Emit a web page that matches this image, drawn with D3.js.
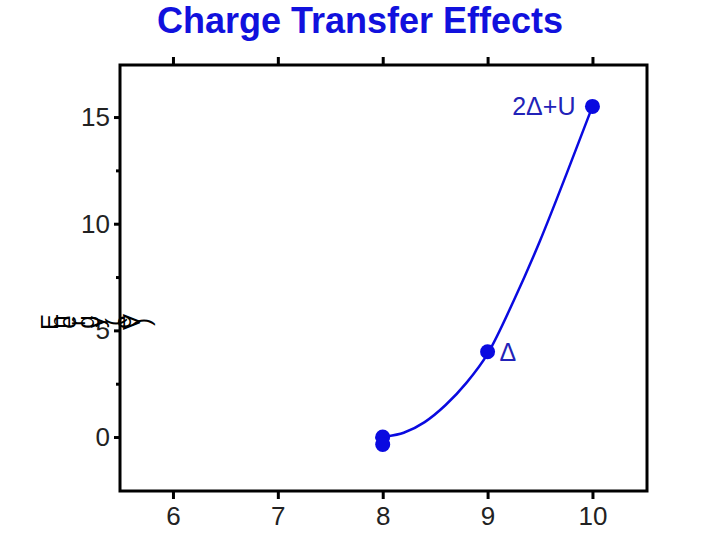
<!DOCTYPE html>
<html>
<head>
<meta charset="utf-8">
<script src="https://cdn.jsdelivr.net/npm/d3@7"></script>
<style>
  body { margin: 0; background: #fff; }
  text { font-family: "Liberation Sans", Arial, sans-serif; }
</style>
</head>
<body>
<div id="chart"></div>
<script>
// data
const pointX = [8, 8, 9, 10];
const pointY = [0, -0.35, 4, 15.5];
const curveX = [7.93, 8, 8.2, 8.4, 8.6, 8.8, 9, 9.25, 9.5, 9.75, 10];
const curveY = [-0.05, 0, 0.2, 0.7, 1.5, 2.55, 3.9, 6.4, 9.2, 12.3, 15.5];
const xTicks = [6, 7, 8, 9, 10];
const yTicks = [0, 5, 10, 15];
const yMinor = [2.5, 7.5, 12.5];
const labels = [
  { text: "2\u0394+U", x: 10, y: 15.5, anchor: "end", dx: -17 },
  { text: "\u0394", x: 9, y: 4, anchor: "start", dx: 12 }
];
const yTitle = "Energy (eV)";
const title = "Charge Transfer Effects";

const W = 720, H = 540;
const PL = 120, PR = 647, PT = 65, PB = 491;
const BLUE = "#0a0ae0";
const LABEL_BLUE = "#2222b8";

const svg = d3.select("#chart").append("svg")
  .attr("width", W)
  .attr("height", H);

const x = d3.scaleLinear().domain([5.495, 10.52]).range([PL, PR]);
const y = d3.scaleLinear().domain([-2.53, 17.44]).range([PB, PT]);

// title
svg.append("text")
  .attr("x", 360)
  .attr("y", 33)
  .attr("text-anchor", "middle")
  .attr("font-size", 36)
  .attr("font-weight", "bold")
  .attr("fill", "#1111dd")
  .text(title);

// frame
svg.append("rect")
  .attr("x", PL).attr("y", PT)
  .attr("width", PR - PL).attr("height", PB - PT)
  .attr("fill", "none")
  .attr("stroke", "#000")
  .attr("stroke-width", 3);

// bottom axis
const xAxis = svg.append("g")
  .attr("transform", `translate(0,${PB})`)
  .call(d3.axisBottom(x).tickValues(xTicks).tickSize(8).tickPadding(8).tickFormat(d3.format("d")));
xAxis.select(".domain").remove();
xAxis.selectAll("line").attr("stroke-width", 3);
xAxis.selectAll("text")
  .attr("font-size", 26)
  .attr("font-family", "Liberation Sans, Arial, sans-serif")
  .attr("fill", "#222");

// top ticks
const xTop = svg.append("g")
  .attr("transform", `translate(0,${PT})`)
  .call(d3.axisTop(x).tickValues(xTicks).tickSize(8).tickFormat(""));
xTop.select(".domain").remove();
xTop.selectAll("line").attr("stroke-width", 3);

// left axis
const yAxis = svg.append("g")
  .attr("transform", `translate(${PL},0)`)
  .call(d3.axisLeft(y).tickValues(yTicks).tickSize(6).tickPadding(4).tickFormat(d3.format("d")));
yAxis.select(".domain").remove();
yAxis.selectAll("line").attr("stroke-width", 3);
yAxis.selectAll("text")
  .attr("font-size", 26)
  .attr("font-family", "Liberation Sans, Arial, sans-serif")
  .attr("fill", "#222");

const yMin = svg.append("g")
  .attr("transform", `translate(${PL},0)`)
  .call(d3.axisLeft(y).tickValues(yMinor).tickSize(4).tickFormat(""));
yMin.select(".domain").remove();
yMin.selectAll("line").attr("stroke-width", 3);

// y axis title, each letter turned on its side
const yt = svg.append("g").attr("class", "ytitle");
yTitle.split("").forEach((ch, i) => {
  yt.append("text")
    .attr("transform", `translate(${49 + i * 9.2},322) rotate(-90)`)
    .attr("text-anchor", "middle")
    .attr("dominant-baseline", "central")
    .attr("font-size", 24)
    .attr("fill", "#000")
    .text(ch);
});

// curve
const curveData = curveX.map((d, i) => [d, curveY[i]]);
const line = d3.line()
  .x(d => x(d[0]))
  .y(d => y(d[1]))
  .curve(d3.curveMonotoneX);

svg.append("path")
  .datum(curveData)
  .attr("fill", "none")
  .attr("stroke", BLUE)
  .attr("stroke-width", 2.5)
  .attr("d", line);

// points
svg.selectAll(".pt")
  .data(pointX.map((d, i) => [d, pointY[i]]))
  .enter().append("circle")
  .attr("class", "pt")
  .attr("cx", d => x(d[0]))
  .attr("cy", d => y(d[1]))
  .attr("r", 7.5)
  .attr("fill", BLUE);

// point labels
svg.selectAll(".lbl")
  .data(labels)
  .enter().append("text")
  .attr("class", "lbl")
  .attr("x", d => x(d.x) + d.dx)
  .attr("y", d => y(d.y) + 9)
  .attr("text-anchor", d => d.anchor)
  .attr("font-size", 25)
  .attr("fill", LABEL_BLUE)
  .text(d => d.text);
</script>
</body>
</html>
